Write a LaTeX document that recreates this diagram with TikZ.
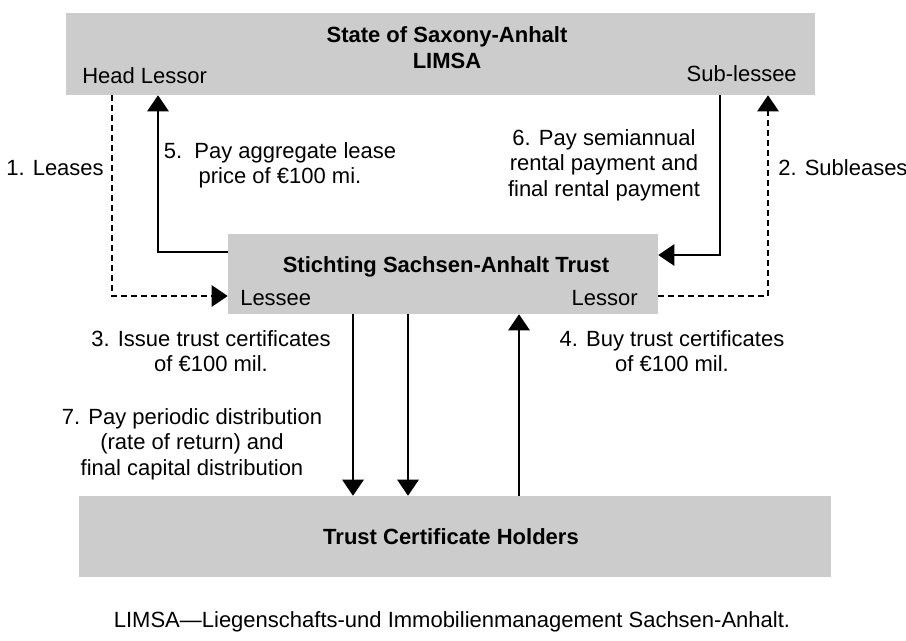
\documentclass[tikz,border=0pt]{standalone}
\usepackage{fontspec}
\setmainfont{Liberation Sans}
\usetikzlibrary{arrows.meta}
\definecolor{boxgray}{RGB}{204,204,204}
\tikzset{
  box/.style={fill=boxgray, draw=none, inner sep=0pt},
  lbl/.style={inner sep=0pt, align=center, font=\fontsize{16.5}{19}\selectfont},
  hdr/.style={inner sep=0pt, align=center, font=\fontsize{16.5}{19.5}\selectfont\bfseries},
  conn/.style={line width=1.2pt, -{Triangle[width=16pt,length=12pt]}},
  dashconn/.style={conn, dash pattern=on 4.5pt off 3pt},
}
\begin{document}
\begin{tikzpicture}[x=0.75pt,y=-0.75pt]
\useasboundingbox (0,0) rectangle (906,640);
% boxes
\node[box, minimum width=561.75pt, minimum height=61.5pt] (top) at (440.5,54) {};
\node[box, minimum width=322.5pt, minimum height=60pt] (mid) at (443,274) {};
\node[box, minimum width=564pt, minimum height=60.75pt] (bot) at (455,536.5) {};
% box texts
\node[hdr] (toptitle) at (447,48) {State of Saxony-Anhalt\\LIMSA};
\node[lbl, anchor=west] (headlessor) at (82,76) {Head Lessor};
\node[lbl, anchor=east] (sublessee) at (797,74) {Sub-lessee};
\node[hdr] (midtitle) at (446,267) {Stichting Sachsen-Anhalt Trust};
\node[lbl, anchor=west] (lessee) at (240,298) {Lessee};
\node[lbl, anchor=east] (lessor) at (638,298) {Lessor};
\node[hdr] (bottitle) at (451,537) {Trust Certificate Holders};
\node[lbl] (caption) at (452,622) {LIMSA—Liegenschafts-und Immobilienmanagement Sachsen-Anhalt.};
% columns and rows
\coordinate (cA) at (112,0);
\coordinate (cB) at (158,0);
\coordinate (cC) at (720,0);
\coordinate (cD) at (768,0);
\coordinate (cE) at (353,0);
\coordinate (cF) at (408,0);
\coordinate (cG) at (519,0);
\coordinate (rL) at (0,296);
\coordinate (rP5) at (0,252);
\coordinate (rP6) at (0,255);
% connectors
\draw[dashconn] (top.south -| cA) |- (mid.west |- rL);
\draw[dashconn] (mid.east |- rL) -| (top.south -| cD);
\draw[conn] (mid.west |- rP5) -| (top.south -| cB);
\draw[conn] (top.south -| cC) |- (mid.east |- rP6);
\draw[conn] (mid.south -| cE) -- (bot.north -| cE);
\draw[conn] (mid.south -| cF) -- (bot.north -| cF);
\draw[conn] (bot.north -| cG) -- (mid.south -| cG);
% labels
\node[lbl, anchor=east] (l1) at (104,168) {1. Leases};
\node[lbl, anchor=west] (l2) at (778,168) {2. Subleases};
\node[lbl] (l5) at (280,165) {5.\ \ Pay aggregate lease\\price of €100 mi.};
\node[lbl] (l6) at (604,165) {6. Pay semiannual\\rental payment and\\final rental payment};
\node[lbl] (l3) at (211,351) {3. Issue trust certificates\\of €100 mil.};
\node[lbl] (l4) at (672,351) {4. Buy trust certificates\\of €100 mil.};
\node[lbl] (l7) at (192,444) {7. Pay periodic distribution\\(rate of return) and\\final capital distribution};
\end{tikzpicture}
\end{document}
